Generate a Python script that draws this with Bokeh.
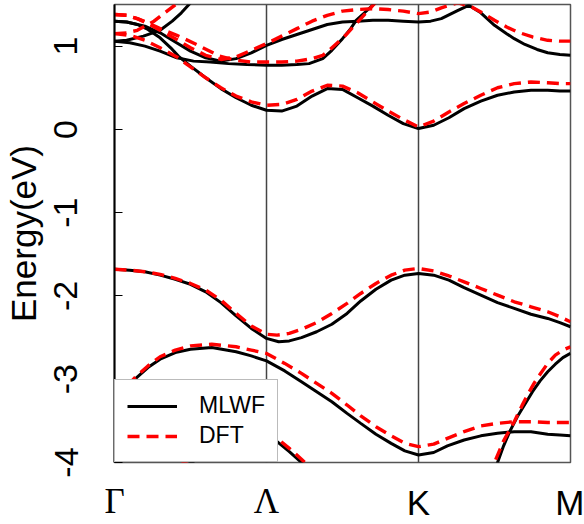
from bokeh.plotting import figure
from bokeh.models import Range1d, FixedTicker, Span, Legend, LegendItem, LinearAxis
from bokeh.embed import file_html
from bokeh.resources import INLINE

# ---- axis data ----
k_ticks = [0, 1, 2, 3]
k_labels = ["Γ", "Λ", "K", "M"]
y_lim = [-4, 1.5]
y_ticks = [-4, -3, -2, -1, 0, 1]
y_tick_labels = ["-4", "-3", "-2", "-1", "0", "1"]
legend_labels = ["MLWF", "DFT"]

# ---- MLWF bands (black) ----
mlwf_a_k = [0, 0.1, 0.2, 0.3, 0.4, 0.5, 0.6, 0.7, 0.8, 0.9, 1.0, 1.08, 1.15, 1.23, 1.33, 1.43, 1.53, 1.62, 1.72, 1.82, 1.91, 2.0, 2.1, 2.2, 2.3, 2.41, 2.52, 2.63, 2.74, 2.85, 2.93, 3.0]
mlwf_a_e = [-1.68, -1.69, -1.71, -1.75, -1.80, -1.86, -1.95, -2.08, -2.24, -2.39, -2.51, -2.55, -2.54, -2.50, -2.43, -2.34, -2.21, -2.06, -1.92, -1.81, -1.75, -1.73, -1.75, -1.81, -1.90, -1.99, -2.08, -2.15, -2.22, -2.27, -2.32, -2.37]

mlwf_b_k = [0, 0.07, 0.14, 0.22, 0.3, 0.4, 0.5, 0.64, 0.8, 0.9, 1.0, 1.12, 1.23, 1.33, 1.43, 1.53, 1.62, 1.72, 1.82, 1.91, 2.0, 2.1, 2.19, 2.3, 2.41, 2.52, 2.63, 2.74, 2.85, 2.93, 3.0]
mlwf_b_e = [-3.30, -3.14, -2.99, -2.86, -2.76, -2.68, -2.64, -2.62, -2.67, -2.72, -2.78, -2.90, -3.03, -3.15, -3.27, -3.41, -3.53, -3.66, -3.77, -3.86, -3.91, -3.88, -3.80, -3.73, -3.68, -3.65, -3.63, -3.63, -3.66, -3.67, -3.68]

mlwf_c_k = [2.45, 2.52, 2.56, 2.6, 2.65, 2.7, 2.75, 2.8, 2.85, 2.9, 2.95, 3.0]
mlwf_c_e = [-4.5, -4.0, -3.8, -3.63, -3.45, -3.3, -3.15, -3.02, -2.91, -2.82, -2.74, -2.69]

mlwf_d_k = [0, 0.15, 0.3, 0.46, 0.6, 0.72, 0.84, 0.95, 1.02, 1.07, 1.15, 1.23, 1.35]
mlwf_d_e = [-4.6, -4.42, -4.25, -4.05, -3.9, -3.8, -3.72, -3.68, -3.70, -3.75, -3.87, -4.0, -4.25]

mlwf_u1_k = [0, 0.08, 0.15, 0.22, 0.3, 0.37, 0.42, 0.5, 0.6, 0.7, 0.8, 0.9, 1.0, 1.1, 1.2, 1.3, 1.4, 1.5, 1.6, 1.7, 1.8, 1.9, 2.0, 2.1, 2.2, 2.3, 2.41, 2.52, 2.63, 2.74, 2.85, 2.93, 3.0]
mlwf_u1_e = [1.30, 1.29, 1.26, 1.20, 1.10, 0.98, 0.88, 0.76, 0.62, 0.49, 0.38, 0.29, 0.23, 0.22, 0.28, 0.40, 0.49, 0.48, 0.38, 0.28, 0.17, 0.07, 0.01, 0.05, 0.14, 0.25, 0.34, 0.41, 0.45, 0.47, 0.47, 0.46, 0.46]

mlwf_u2_k = [0, 0.08, 0.19, 0.3, 0.38, 0.44, 0.49, 0.54]
mlwf_u2_e = [1.06, 1.07, 1.12, 1.19, 1.30, 1.40, 1.50, 1.60]

mlwf_u3_k = [0, 0.1, 0.2, 0.3, 0.41, 0.52, 0.63, 0.75, 0.87, 1.0, 1.1, 1.2, 1.28, 1.37, 1.43, 1.5, 1.55, 1.59, 1.65, 1.71, 1.76]
mlwf_u3_e = [1.06, 1.04, 1.00, 0.94, 0.86, 0.82, 0.81, 0.79, 0.78, 0.77, 0.77, 0.78, 0.79, 0.85, 0.95, 1.09, 1.20, 1.31, 1.41, 1.51, 1.6]

mlwf_u4_k = [0, 0.08, 0.2, 0.3, 0.4, 0.5, 0.6, 0.7, 0.8, 0.9, 1.0, 1.1, 1.2, 1.3, 1.4, 1.5, 1.6, 1.7, 1.8, 1.9, 2.0, 2.08, 2.15, 2.26, 2.33, 2.41, 2.5, 2.58, 2.63, 2.7, 2.78, 2.85, 2.93, 3.0]
mlwf_u4_e = [1.30, 1.29, 1.24, 1.16, 1.05, 0.94, 0.86, 0.82, 0.85, 0.92, 1.01, 1.08, 1.14, 1.20, 1.26, 1.29, 1.30, 1.31, 1.31, 1.30, 1.29, 1.30, 1.33, 1.43, 1.49, 1.40, 1.25, 1.15, 1.09, 1.02, 0.96, 0.92, 0.90, 0.89]

# ---- DFT bands (red dashed) ----
dft_a_k = [0, 0.1, 0.2, 0.3, 0.4, 0.5, 0.6, 0.7, 0.8, 0.9, 1.0, 1.07, 1.15, 1.23, 1.33, 1.43, 1.53, 1.62, 1.72, 1.82, 1.91, 2.0, 2.1, 2.2, 2.3, 2.41, 2.52, 2.63, 2.74, 2.85, 2.93, 3.0]
dft_a_e = [-1.68, -1.69, -1.71, -1.74, -1.79, -1.85, -1.93, -2.05, -2.21, -2.36, -2.46, -2.47, -2.45, -2.40, -2.32, -2.21, -2.09, -1.97, -1.85, -1.75, -1.69, -1.67, -1.70, -1.76, -1.83, -1.91, -1.99, -2.07, -2.13, -2.19, -2.25, -2.31]

dft_b_k = [0, 0.07, 0.14, 0.22, 0.3, 0.4, 0.5, 0.64, 0.8, 0.9, 1.0, 1.12, 1.23, 1.33, 1.43, 1.53, 1.62, 1.72, 1.82, 1.91, 2.0, 2.1, 2.19, 2.3, 2.41, 2.52, 2.63, 2.74, 2.85, 2.93, 3.0]
dft_b_e = [-3.25, -3.11, -2.97, -2.84, -2.73, -2.65, -2.60, -2.58, -2.61, -2.65, -2.69, -2.81, -2.93, -3.05, -3.17, -3.31, -3.44, -3.57, -3.68, -3.77, -3.81, -3.78, -3.71, -3.63, -3.56, -3.53, -3.51, -3.51, -3.52, -3.52, -3.52]

dft_c_k = [2.43, 2.5, 2.56, 2.63, 2.68, 2.72, 2.76, 2.8, 2.85, 2.9, 2.95, 3.0]
dft_c_e = [-4.4, -4.0, -3.74, -3.51, -3.32, -3.18, -3.05, -2.94, -2.81, -2.71, -2.65, -2.61]

dft_d_k = [0, 0.15, 0.3, 0.46, 0.6, 0.72, 0.84, 0.95, 1.02, 1.07, 1.15, 1.23, 1.37]
dft_d_e = [-4.55, -4.37, -4.2, -4.0, -3.85, -3.75, -3.67, -3.63, -3.65, -3.71, -3.83, -3.96, -4.2]

dft_u1_k = [0, 0.1, 0.2, 0.3, 0.41, 0.5, 0.6, 0.7, 0.8, 0.9, 1.0, 1.1, 1.2, 1.3, 1.4, 1.5, 1.6, 1.7, 1.8, 1.9, 2.0, 2.1, 2.2, 2.3, 2.41, 2.52, 2.63, 2.74, 2.85, 2.93, 3.0]
dft_u1_e = [1.15, 1.13, 1.07, 0.98, 0.87, 0.75, 0.62, 0.50, 0.40, 0.33, 0.29, 0.30, 0.36, 0.46, 0.53, 0.52, 0.44, 0.33, 0.22, 0.12, 0.03, 0.10, 0.21, 0.31, 0.41, 0.50, 0.55, 0.57, 0.56, 0.55, 0.55]

dft_u2_k = [0, 0.08, 0.15, 0.26, 0.33, 0.41, 0.47]
dft_u2_e = [1.15, 1.16, 1.19, 1.30, 1.40, 1.51, 1.60]

dft_u3_k = [0, 0.08, 0.15, 0.22, 0.3, 0.41, 0.54, 0.69, 0.8, 0.9, 1.0, 1.1, 1.2, 1.3, 1.37, 1.4, 1.46, 1.52, 1.58, 1.64, 1.7, 1.75]
dft_u3_e = [1.38, 1.37, 1.33, 1.28, 1.21, 1.13, 1.02, 0.88, 0.83, 0.81, 0.81, 0.81, 0.82, 0.85, 0.89, 0.93, 1.03, 1.13, 1.25, 1.37, 1.49, 1.58]

dft_u4_k = [0, 0.08, 0.15, 0.22, 0.3, 0.41, 0.5, 0.6, 0.7, 0.8, 0.9, 1.0, 1.1, 1.2, 1.3, 1.4, 1.5, 1.6, 1.7, 1.8, 1.9, 2.0, 2.08, 2.15, 2.26, 2.35, 2.42, 2.5, 2.58, 2.65, 2.75, 2.85, 2.93, 3.0]
dft_u4_e = [1.38, 1.37, 1.33, 1.27, 1.19, 1.08, 0.98, 0.89, 0.84, 0.87, 0.95, 1.03, 1.12, 1.21, 1.30, 1.37, 1.42, 1.44, 1.45, 1.44, 1.42, 1.39, 1.41, 1.46, 1.52, 1.47, 1.40, 1.31, 1.23, 1.17, 1.11, 1.07, 1.06, 1.06]

mlwf_bands = [(mlwf_a_k, mlwf_a_e), (mlwf_b_k, mlwf_b_e), (mlwf_c_k, mlwf_c_e), (mlwf_d_k, mlwf_d_e),
              (mlwf_u1_k, mlwf_u1_e), (mlwf_u2_k, mlwf_u2_e), (mlwf_u3_k, mlwf_u3_e), (mlwf_u4_k, mlwf_u4_e)]
dft_bands = [(dft_a_k, dft_a_e), (dft_b_k, dft_b_e), (dft_c_k, dft_c_e), (dft_d_k, dft_d_e),
             (dft_u1_k, dft_u1_e), (dft_u2_k, dft_u2_e), (dft_u3_k, dft_u3_e), (dft_u4_k, dft_u4_e)]

SANS = "Liberation Sans"
SERIF = "Liberation Serif"
XLAB_SIZE = 35
XLAB_STANDOFF = 20
XLAB_EXTENT = 43   # measured height that Bokeh reserves for one row of 35px labels

p = figure(width=584, height=524, output_backend="svg", toolbar_location=None,
           x_range=Range1d(k_ticks[0], k_ticks[-1]), y_range=Range1d(y_lim[0], y_lim[1]),
           min_border_left=112, min_border_right=14, min_border_top=4, min_border_bottom=61)
p.grid.visible = False
p.background_fill_color = "white"
p.border_fill_color = "white"
p.outline_line_color = "#555555"
p.outline_line_width = 1.5

# y axis
p.yaxis.ticker = FixedTicker(ticks=y_ticks)
p.yaxis.major_label_overrides = {t: s for t, s in zip(y_ticks, y_tick_labels)}
p.yaxis.major_label_orientation = "vertical"
p.yaxis.major_label_text_font = SANS
p.yaxis.major_label_text_font_size = "34px"
p.yaxis.major_label_text_color = "black"
p.yaxis.major_label_standoff = 37
p.yaxis.major_tick_in = 8
p.yaxis.major_tick_out = 0
p.yaxis.minor_tick_in = 0
p.yaxis.minor_tick_out = 0
p.yaxis.major_tick_line_color = "black"
p.yaxis.axis_line_color = "black"
p.yaxis.axis_line_width = 2
p.yaxis.axis_label = "Energy(eV)"
p.yaxis.axis_label_text_font = SANS
p.yaxis.axis_label_text_font_size = "35px"
p.yaxis.axis_label_text_font_style = "normal"
p.yaxis.axis_label_text_color = "black"
p.yaxis.axis_label_standoff = 9

def style_xaxis(ax, ticks, labels, font, standoff):
    ax.ticker = FixedTicker(ticks=ticks)
    ax.major_label_overrides = {t: s for t, s in zip(ticks, labels)}
    ax.major_label_text_font = font
    ax.major_label_text_font_size = f"{XLAB_SIZE}px"
    ax.major_label_text_color = "black"
    ax.major_label_standoff = standoff
    ax.major_tick_in = 0
    ax.major_tick_out = 0
    ax.minor_tick_in = 0
    ax.minor_tick_out = 0
    ax.axis_line_color = None

# first axis (next to the frame): sans-serif K and M
style_xaxis(p.xaxis[0], k_ticks[2:], k_labels[2:], SANS, XLAB_STANDOFF)
# second axis stacked below it: serif Greek letters, pulled up onto the same row
greek_axis = LinearAxis()
p.add_layout(greek_axis, "below")
style_xaxis(greek_axis, k_ticks[:2], k_labels[:2], SERIF, -XLAB_EXTENT)

for kk in k_ticks[1:3]:
    p.add_layout(Span(location=kk, dimension="height", line_color="#444444",
                      line_width=1.5, level="underlay"))

black_r = []
for kx, ey in mlwf_bands:
    black_r.append(p.line(kx, ey, line_color="black", line_width=3))
red_r = []
for kx, ey in dft_bands:
    red_r.append(p.line(kx, ey, line_color="#ff0000", line_width=3.4, line_dash="12 7"))

legend = Legend(items=[LegendItem(label=legend_labels[0], renderers=[black_r[0]]),
                       LegendItem(label=legend_labels[1], renderers=[red_r[0]])],
                location="bottom_left", margin=0, padding=12, spacing=3,
                glyph_width=50, glyph_height=26, label_standoff=22,
                label_text_font=SANS, label_text_font_size="23px", label_text_color="black",
                border_line_color="#777777", border_line_width=1.5,
                background_fill_color="white", background_fill_alpha=1.0)
p.add_layout(legend)

open("out.html", "w").write(file_html(p, INLINE))
